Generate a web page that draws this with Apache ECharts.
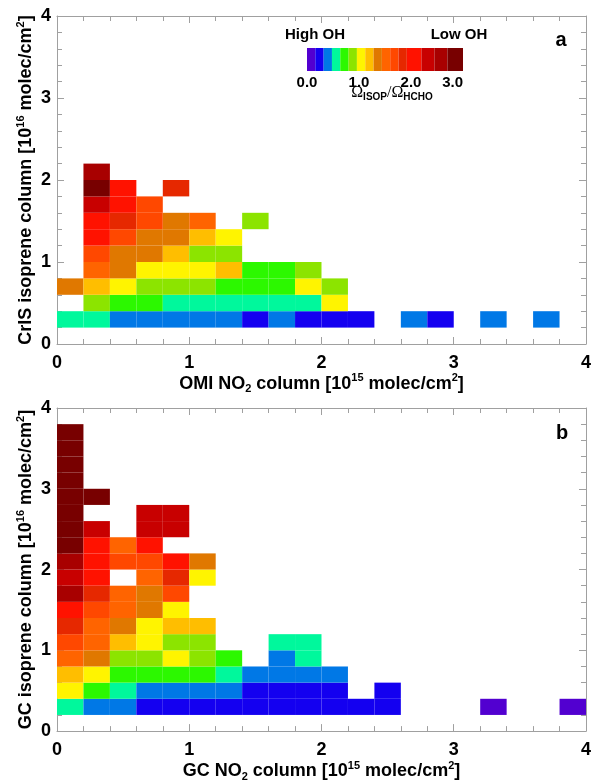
<!DOCTYPE html>
<html>
<head>
<meta charset="utf-8">
<script src="https://cdn.jsdelivr.net/npm/echarts@6/dist/echarts.min.js"></script>
<style>
html, body { margin: 0; padding: 0; background: #fff; }
#chart { width: 594px; height: 783px; }
</style>
</head>
<body>
<div id="chart"></div>
<script>
// bin width of both axes
const STEP = 0.2;

// panel a: [OMI NO2 bin start, CrIS isoprene bin start, ratio ISOP/HCHO]
const omiCells = [
  [0.0,0.2,0.56],[0.2,0.2,0.56],[0.4,0.2,0.40],[0.6,0.2,0.40],[0.8,0.2,0.40],[1.0,0.2,0.40],[1.2,0.2,0.40],
  [1.4,0.2,0.24],[1.6,0.2,0.40],[1.8,0.2,0.24],[2.0,0.2,0.24],[2.2,0.2,0.24],[2.6,0.2,0.40],[2.8,0.2,0.24],
  [3.2,0.2,0.40],[3.6,0.2,0.40],
  [0.2,0.4,0.88],[0.4,0.4,0.72],[0.6,0.4,0.72],[0.8,0.4,0.56],[1.0,0.4,0.56],[1.2,0.4,0.56],[1.4,0.4,0.56],
  [1.6,0.4,0.56],[1.8,0.4,0.56],[2.0,0.4,1.04],
  [0.0,0.6,1.36],[0.2,0.6,1.20],[0.4,0.6,1.04],[0.6,0.6,0.88],[0.8,0.6,0.88],[1.0,0.6,0.88],[1.2,0.6,0.72],
  [1.4,0.6,0.72],[1.6,0.6,0.72],[1.8,0.6,1.04],[2.0,0.6,0.88],
  [0.2,0.8,1.52],[0.4,0.8,1.36],[0.6,0.8,1.04],[0.8,0.8,1.04],[1.0,0.8,1.04],[1.2,0.8,1.20],[1.4,0.8,0.72],
  [1.6,0.8,0.72],[1.8,0.8,0.88],
  [0.2,1.0,1.68],[0.4,1.0,1.36],[0.6,1.0,1.36],[0.8,1.0,1.20],[1.0,1.0,0.88],[1.2,1.0,0.88],
  [0.2,1.2,2.06],[0.4,1.2,1.68],[0.6,1.2,1.36],[0.8,1.2,1.36],[1.0,1.2,1.20],[1.2,1.2,1.04],
  [0.2,1.4,2.06],[0.4,1.4,1.84],[0.6,1.4,1.68],[0.8,1.4,1.36],[1.0,1.4,1.52],[1.4,1.4,0.88],
  [0.2,1.6,2.32],[0.4,1.6,2.06],[0.6,1.6,1.68],
  [0.2,1.8,2.85],[0.4,1.8,2.06],[0.8,1.8,1.84],
  [0.2,2.0,2.58]
];

// panel b: [GC NO2 bin start, GC isoprene bin start, ratio]
const gcCells = [
  [0.0,0.2,0.56],[0.2,0.2,0.40],[0.4,0.2,0.40],[0.6,0.2,0.24],[0.8,0.2,0.24],[1.0,0.2,0.24],[1.2,0.2,0.24],
  [1.4,0.2,0.24],[1.6,0.2,0.24],[1.8,0.2,0.24],[2.0,0.2,0.24],[2.2,0.2,0.24],[2.4,0.2,0.24],[3.2,0.2,0.08],
  [3.8,0.2,0.08],
  [0.0,0.4,1.04],[0.2,0.4,0.72],[0.4,0.4,0.56],[0.6,0.4,0.40],[0.8,0.4,0.40],[1.0,0.4,0.40],[1.2,0.4,0.40],
  [1.4,0.4,0.24],[1.6,0.4,0.24],[1.8,0.4,0.24],[2.0,0.4,0.24],[2.4,0.4,0.24],
  [0.0,0.6,1.20],[0.2,0.6,1.04],[0.4,0.6,0.72],[0.6,0.6,0.72],[0.8,0.6,0.72],[1.0,0.6,0.72],[1.2,0.6,0.56],
  [1.4,0.6,0.40],[1.6,0.6,0.40],[1.8,0.6,0.40],[2.0,0.6,0.40],
  [0.0,0.8,1.52],[0.2,0.8,1.36],[0.4,0.8,0.88],[0.6,0.8,0.88],[0.8,0.8,1.04],[1.0,0.8,0.88],[1.2,0.8,0.72],
  [1.6,0.8,0.40],[1.8,0.8,0.56],
  [0.0,1.0,1.68],[0.2,1.0,1.52],[0.4,1.0,1.20],[0.6,1.0,1.04],[0.8,1.0,0.88],[1.0,1.0,0.88],[1.6,1.0,0.56],
  [1.8,1.0,0.56],
  [0.0,1.2,1.84],[0.2,1.2,1.52],[0.4,1.2,1.36],[0.6,1.2,1.04],[0.8,1.2,1.20],[1.0,1.2,1.20],
  [0.0,1.4,2.06],[0.2,1.4,1.68],[0.4,1.4,1.52],[0.6,1.4,1.36],[0.8,1.4,1.04],
  [0.0,1.6,2.60],[0.2,1.6,1.84],[0.4,1.6,1.52],[0.6,1.6,1.36],[0.8,1.6,1.68],
  [0.0,1.8,2.32],[0.2,1.8,2.06],[0.6,1.8,1.52],[0.8,1.8,1.84],[1.0,1.8,1.04],
  [0.0,2.0,2.55],[0.2,2.0,2.06],[0.4,2.0,1.68],[0.6,2.0,1.68],[0.8,2.0,2.06],[1.0,2.0,1.36],
  [0.0,2.2,2.85],[0.2,2.2,2.06],[0.4,2.2,1.52],[0.6,2.2,2.06],
  [0.0,2.4,2.85],[0.2,2.4,2.32],[0.6,2.4,2.32],[0.8,2.4,2.32],
  [0.0,2.6,2.85],[0.6,2.6,2.32],[0.8,2.6,2.32],
  [0.0,2.8,2.85],[0.2,2.8,2.85],
  [0.0,3.0,2.85],[0.0,3.2,2.85],[0.0,3.4,2.85],[0.0,3.6,2.85]
];

// colour scale of the ratio
const ratioBreaks = [0, 0.16, 0.32, 0.48, 0.64, 0.80, 0.96, 1.12, 1.28, 1.44, 1.60, 1.76, 1.92, 2.20, 2.45, 2.70, 3.0];
const ratioColors = ['#5200d0', '#1400f0', '#0078e6', '#00f89c', '#2cf800', '#8ce400', '#fff400', '#ffbe00',
  '#e07800', '#ff6400', '#ff4800', '#e62800', '#ff1200', '#c80000', '#a80000', '#780000'];
const ratioTicks = [1, 2];

const FONT = '"Liberation Sans", Arial, Helvetica, sans-serif';
const frameColor = '#a0a0a0';

const richText = {
  sup: { fontFamily: FONT, fontSize: 11, fontWeight: 'bold', color: '#000', verticalAlign: 'top', lineHeight: 11 },
  sub: { fontFamily: FONT, fontSize: 11, fontWeight: 'bold', color: '#000', verticalAlign: 'bottom', lineHeight: 11 }
};

const nameStyle = {
  fontFamily: FONT, fontSize: 18, fontWeight: 'bold', color: '#000', lineHeight: 22, rich: richText
};

const labelStyle = { fontFamily: FONT, fontSize: 18, fontWeight: 'bold', color: '#000' };

function frameAxis(gridIndex, position, extra) {
  return Object.assign({
    type: 'value',
    gridIndex: gridIndex,
    position: position,
    min: 0,
    max: 4,
    interval: 1,
    axisLine: { show: true, onZero: false, lineStyle: { color: frameColor, width: 1 } },
    axisTick: { show: true, inside: true, length: 7, lineStyle: { color: frameColor } },
    minorTick: { show: true, splitNumber: 5, length: 5, lineStyle: { color: frameColor } },
    axisLabel: { show: false },
    splitLine: { show: false }
  }, extra);
}

function xMain(gridIndex, name) {
  return frameAxis(gridIndex, 'bottom', {
    name: name, nameLocation: 'middle', nameGap: 27, nameTextStyle: nameStyle,
    axisLabel: Object.assign({ show: true, margin: 10 }, labelStyle)
  });
}

function yMain(gridIndex, name) {
  return frameAxis(gridIndex, 'left', {
    name: name, nameLocation: 'middle', nameGap: 20, nameMoveOverlap: false, nameTextStyle: nameStyle,
    axisLabel: Object.assign({ show: true, margin: 6 }, labelStyle)
  });
}

function renderCell(params, api) {
  const x0 = api.value(0);
  const y0 = api.value(1);
  const p0 = api.coord([x0, y0 + STEP]);
  const p1 = api.coord([x0 + STEP, y0]);
  return {
    type: 'rect',
    shape: { x: p0[0], y: p0[1], width: p1[0] - p0[0], height: p1[1] - p0[1] },
    style: { fill: api.visual('color') }
  };
}

// colour bar segments: [lo, hi, mid]
const barSegments = ratioColors.map((c, i) => [ratioBreaks[i], ratioBreaks[i + 1], (ratioBreaks[i] + ratioBreaks[i + 1]) / 2]);

function renderSegment(params, api) {
  const p0 = api.coord([api.value(0), 1]);
  const p1 = api.coord([api.value(1), 0]);
  return {
    type: 'rect',
    shape: { x: p0[0], y: p0[1], width: p1[0] - p0[0], height: p1[1] - p0[1] },
    style: { fill: api.visual('color') }
  };
}

const pieces = ratioColors.map((c, i) => {
  const p = { gte: ratioBreaks[i], color: c };
  if (i === ratioColors.length - 1) p.lte = ratioBreaks[i + 1];
  else p.lt = ratioBreaks[i + 1];
  return p;
});

const chart = echarts.init(document.getElementById('chart'));
const option = {
  animation: false,
  backgroundColor: '#fff',
  grid: [
    { left: 57, top: 16, width: 531, height: 328 },
    { left: 57, top: 408, width: 531, height: 327 },
    { left: 307, top: 48, width: 156, height: 23 }
  ],
  xAxis: [
    xMain(0, 'OMI NO{sub|2} column [10{sup|15} molec/cm{sup|2}]'),
    frameAxis(0, 'top'),
    xMain(1, 'GC NO{sub|2} column [10{sup|15} molec/cm{sup|2}]'),
    frameAxis(1, 'top'),
    {
      type: 'value', gridIndex: 2, min: 0, max: 3, interval: 1,
      axisLine: { show: false },
      axisTick: { show: true, inside: true, length: 6, customValues: ratioTicks, lineStyle: { color: '#666' } },
      axisLabel: {
        show: true, margin: 4, fontFamily: FONT, fontSize: 15, fontWeight: 'bold', color: '#000',
        formatter: v => v.toFixed(1), alignMinLabel: 'center', alignMaxLabel: 'right'
      },
      splitLine: { show: false }
    }
  ],
  yAxis: [
    yMain(0, 'CrIS isoprene column [10{sup|16} molec/cm{sup|2}]'),
    frameAxis(0, 'right'),
    yMain(1, 'GC isoprene column [10{sup|16} molec/cm{sup|2}]'),
    frameAxis(1, 'right'),
    { type: 'value', gridIndex: 2, min: 0, max: 1, show: false }
  ],
  visualMap: {
    type: 'piecewise',
    show: false,
    dimension: 2,
    seriesIndex: [0, 1, 2],
    pieces: pieces
  },
  series: [
    { type: 'custom', name: 'OMI/CrIS', xAxisIndex: 0, yAxisIndex: 0, renderItem: renderCell, data: omiCells, encode: { x: 0, y: 1 } },
    { type: 'custom', name: 'GEOS-Chem', xAxisIndex: 2, yAxisIndex: 2, renderItem: renderCell, data: gcCells, encode: { x: 0, y: 1 } },
    { type: 'custom', name: 'colorbar', xAxisIndex: 4, yAxisIndex: 4, renderItem: renderSegment, data: barSegments, encode: { x: [0, 1], y: 2 } }
  ],
  graphic: [
    { type: 'text', x: 561, y: 40, style: { text: 'a', fill: '#000', font: 'bold 20px ' + FONT, align: 'center', verticalAlign: 'middle', textAlign: 'center', textVerticalAlign: 'middle' } },
    { type: 'text', x: 562, y: 433, style: { text: 'b', fill: '#000', font: 'bold 20px ' + FONT, align: 'center', verticalAlign: 'middle', textAlign: 'center', textVerticalAlign: 'middle' } },
    { type: 'text', x: 315, y: 35, style: { text: 'High OH', fill: '#000', font: 'bold 15px ' + FONT, align: 'center', verticalAlign: 'middle', textAlign: 'center', textVerticalAlign: 'middle' } },
    { type: 'text', x: 459, y: 35, style: { text: 'Low OH', fill: '#000', font: 'bold 15px ' + FONT, align: 'center', verticalAlign: 'middle', textAlign: 'center', textVerticalAlign: 'middle' } },
    {
      type: 'text', x: 392, y: 93,
      style: {
        text: '{om|Ω}{s|ISOP}{om|/Ω}{s|HCHO}',
        align: 'center', verticalAlign: 'middle', textAlign: 'center', textVerticalAlign: 'middle',
        rich: {
          om: { fontFamily: '"Liberation Serif", "DejaVu Serif", serif', fontSize: 16, fill: '#000', color: '#000', lineHeight: 18 },
          s: { fontFamily: FONT, fontSize: 10, fontWeight: 'bold', fill: '#000', color: '#000', verticalAlign: 'bottom', lineHeight: 12 }
        }
      }
    }
  ]
};
chart.setOption(option);
</script>
</body>
</html>
